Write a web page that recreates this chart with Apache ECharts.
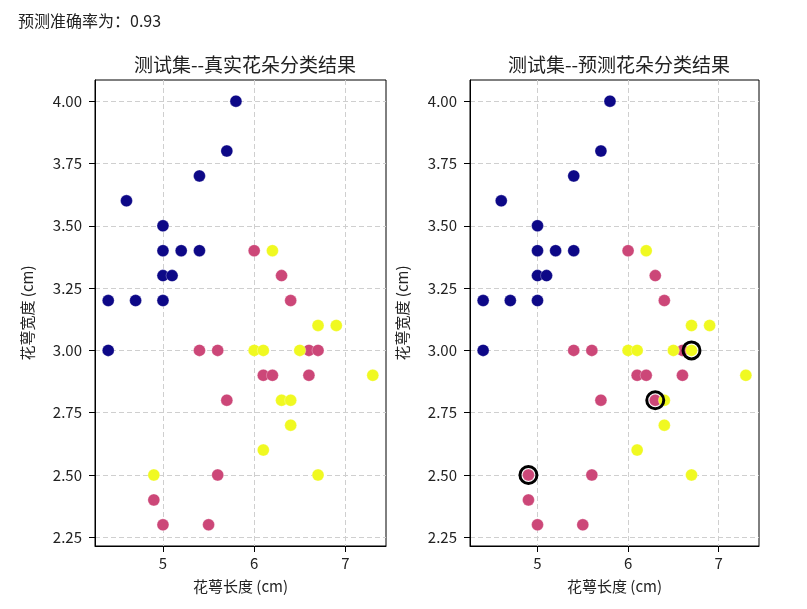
<!DOCTYPE html>
<html>
<head>
<meta charset="utf-8">
<script src="https://cdn.jsdelivr.net/npm/echarts@6/dist/echarts.min.js"></script>
<style>
html, body { margin: 0; padding: 0; background: #fff; }
#main { width: 807px; height: 609px; }
</style>
</head>
<body>
<div id="main"></div>
<script>
// test set: sepal length / width, true class and predicted class
var sepalLength = [5.8, 5.7, 5.4, 4.6, 5.0, 5.0, 5.2, 5.4, 5.0, 5.1, 4.4, 4.7, 5.0, 4.4,
    6.0, 6.3, 6.4, 5.4, 5.6, 6.6, 6.7, 6.1, 6.2, 6.6, 5.7, 5.6, 4.9, 5.0, 5.5,
    6.2, 6.7, 6.9, 6.0, 6.1, 6.5, 7.3, 6.3, 6.4, 6.4, 6.1, 4.9, 6.7];
var sepalWidth = [4.0, 3.8, 3.7, 3.6, 3.5, 3.4, 3.4, 3.4, 3.3, 3.3, 3.2, 3.2, 3.2, 3.0,
    3.4, 3.3, 3.2, 3.0, 3.0, 3.0, 3.0, 2.9, 2.9, 2.9, 2.8, 2.5, 2.4, 2.3, 2.3,
    3.4, 3.1, 3.1, 3.0, 3.0, 3.0, 2.9, 2.8, 2.8, 2.7, 2.6, 2.5, 2.5];
var trueLabel = [0, 0, 0, 0, 0, 0, 0, 0, 0, 0, 0, 0, 0, 0,
    1, 1, 1, 1, 1, 1, 1, 1, 1, 1, 1, 1, 1, 1, 1,
    2, 2, 2, 2, 2, 2, 2, 2, 2, 2, 2, 2, 2];
var predLabel = [0, 0, 0, 0, 0, 0, 0, 0, 0, 0, 0, 0, 0, 0,
    1, 1, 1, 1, 1, 1, 2, 1, 1, 1, 1, 1, 1, 1, 1,
    2, 2, 2, 2, 2, 2, 2, 1, 2, 2, 2, 1, 2];

var xTicks = [5, 6, 7];
var yTicks = [2.25, 2.50, 2.75, 3.00, 3.25, 3.50, 3.75, 4.00];
var classColors = ['#0d0887', '#cc4778', '#f0f921'];
var accuracyText = '预测准确率为：0.93';
var titles = ['测试集--真实花朵分类结果', '测试集--预测花朵分类结果'];

var chart = echarts.init(document.getElementById('main'));
var font = '"Noto Sans CJK SC", "DejaVu Sans", sans-serif';

function pointsFor(labels, cls) {
    var pts = [];
    for (var i = 0; i < labels.length; i++) {
        if (labels[i] === cls) pts.push([sepalLength[i], sepalWidth[i]]);
    }
    return pts;
}

function wrongPoints() {
    var pts = [];
    for (var i = 0; i < trueLabel.length; i++) {
        if (trueLabel[i] !== predLabel[i]) pts.push([sepalLength[i], sepalWidth[i]]);
    }
    return pts;
}

function makeXAxis(idx) {
    return {
        gridIndex: idx,
        type: 'value',
        min: 4.255,
        max: 7.445,
        name: '花萼长度 (cm)',
        nameLocation: 'middle',
        nameGap: 33,
        nameTextStyle: { fontFamily: font, fontSize: 15, color: '#222' },
        axisLine: { show: true, onZero: false, lineStyle: { color: '#000' } },
        axisTick: { show: true, length: 6, lineStyle: { color: '#000' }, customValues: xTicks },
        axisLabel: { fontFamily: font, fontSize: 15, color: '#222', margin: 10, customValues: xTicks },
        splitLine: { show: true, lineStyle: { color: '#cfcfcf', type: [5, 3] } }
    };
}

function makeYAxis(idx) {
    return {
        gridIndex: idx,
        type: 'value',
        min: 2.215,
        max: 4.085,
        name: '花萼宽度 (cm)',
        nameLocation: 'middle',
        nameGap: 60,
        nameTextStyle: { fontFamily: font, fontSize: 15, color: '#222' },
        axisLine: { show: true, onZero: false, lineStyle: { color: '#000' } },
        axisTick: { show: true, length: 6, lineStyle: { color: '#000' }, customValues: yTicks },
        axisLabel: {
            fontFamily: font, fontSize: 15, color: '#222', margin: 13, customValues: yTicks,
            formatter: function (v) { return v.toFixed(2); }
        },
        splitLine: { show: true, lineStyle: { color: '#cfcfcf', type: [5, 3] } }
    };
}

function makeSeries() {
    var serie = [];
    var sets = [trueLabel, predLabel];
    for (var g = 0; g < 2; g++) {
        for (var c = 0; c < 3; c++) {
            serie.push({
                type: 'scatter',
                xAxisIndex: g,
                yAxisIndex: g,
                symbolSize: 12,
                itemStyle: { color: classColors[c], opacity: 1, borderColor: 'rgba(255,255,255,0.6)', borderWidth: 0.5 },
                data: pointsFor(sets[g], c)
            });
        }
    }
    serie.push({
        type: 'scatter',
        xAxisIndex: 1,
        yAxisIndex: 1,
        symbolSize: 17,
        z: 5,
        itemStyle: { color: 'rgba(0,0,0,0)', borderColor: '#000', borderWidth: 3, opacity: 1 },
        data: wrongPoints()
    });
    return serie;
}

chart.setOption({
    animation: false,
    backgroundColor: '#fff',
    title: [{
        text: accuracyText,
        left: 13, top: 8,
        textStyle: { fontFamily: font, fontSize: 16, fontWeight: 'normal', color: '#222' }
    }, {
        text: titles[0],
        left: 240, top: 50, textAlign: 'center',
        textStyle: { fontFamily: font, fontSize: 19, fontWeight: 'normal', color: '#222' }
    }, {
        text: titles[1],
        left: 614, top: 50, textAlign: 'center',
        textStyle: { fontFamily: font, fontSize: 19, fontWeight: 'normal', color: '#222' }
    }],
    grid: [
        { left: 95, top: 80, width: 291, height: 466, show: true, borderColor: '#000', borderWidth: 1, backgroundColor: 'transparent' },
        { left: 470, top: 80, width: 289, height: 466, show: true, borderColor: '#000', borderWidth: 1, backgroundColor: 'transparent' }
    ],
    xAxis: [makeXAxis(0), makeXAxis(1)],
    yAxis: [makeYAxis(0), makeYAxis(1)],
    series: makeSeries()
});
</script>
</body>
</html>
